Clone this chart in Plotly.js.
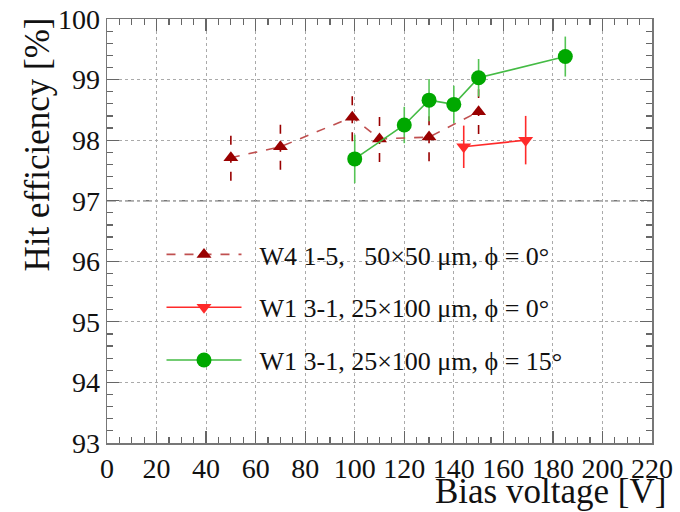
<!DOCTYPE html>
<html>
<head>
<meta charset="utf-8">
<script src="https://cdn.plot.ly/plotly-3.0.1.min.js"></script>
<style>
  html, body { margin: 0; padding: 0; background: #fff; }
  #chart { width: 680px; height: 512px; }
</style>
</head>
<body>
<div id="chart"></div>
<script>
// W4 1-5, 50x50 um pixels, phi = 0 deg
const w4Voltage = [50, 70, 99, 110, 130, 150];
const w4Eff     = [97.71, 97.89, 98.38, 98.02, 98.05, 98.47];
const w4Err     = [0.38, 0.38, 0.40, 0.38, 0.40, 0.37];

// W1 3-1, 25x100 um pixels, phi = 0 deg
const w1Voltage = [144, 169];
const w1Eff     = [97.89, 98.00];
const w1Err     = [0.35, 0.40];

// W1 3-1, 25x100 um pixels, phi = 15 deg
const w1tVoltage = [100, 120, 130, 140, 150, 185];
const w1tEff     = [97.69, 98.25, 98.66, 98.59, 99.03, 99.38];
const w1tErr     = [0.40, 0.30, 0.35, 0.31, 0.31, 0.33];

const legendNames = [
  '\u00a0\u00a0W4 1-5,\u00a0\u00a0\u00a050\u00d750 \u03bcm, \u03d5 = 0\u00b0',
  '\u00a0\u00a0W1 3-1, 25\u00d7100 \u03bcm, \u03d5 = 0\u00b0',
  '\u00a0\u00a0W1 3-1, 25\u00d7100 \u03bcm, \u03d5 = 15\u00b0'
];

const referenceLevel = 97;

const serif = 'Liberation Serif, Times New Roman, serif';

// vertical error segments built from the series values
function errorSegments(xs, ys, es) {
  const x = [], y = [];
  xs.forEach((v, i) => {
    x.push(v, v, null);
    y.push(ys[i] - es[i], ys[i] + es[i], null);
  });
  return { x, y };
}

function errTrace(xs, ys, es, color, dash) {
  const s = errorSegments(xs, ys, es);
  return {
    x: s.x, y: s.y, mode: 'lines', type: 'scatter',
    line: { color: color, width: 1.6, dash: dash },
    showlegend: false, hoverinfo: 'skip'
  };
}

const c1 = '#990000', c2 = '#ff2a2a';

const traces = [
  errTrace(w4Voltage, w4Eff, w4Err, c1, 'dash'),
  errTrace(w1Voltage, w1Eff, w1Err, c2, 'solid'),
  errTrace(w1tVoltage, w1tEff, w1tErr, '#55c455', 'solid'),
  {
    x: w4Voltage, y: w4Eff, name: legendNames[0], legendgroup: 'a',
    type: 'scatter', mode: 'lines+markers',
    line: { color: '#c05050', width: 1.6, dash: 'dash' },
    marker: { symbol: 'triangle-up', size: 13, color: c1 }
  },
  {
    x: w1Voltage, y: w1Eff, name: legendNames[1], legendgroup: 'b',
    type: 'scatter', mode: 'lines+markers',
    line: { color: c2, width: 1.6 },
    marker: { symbol: 'triangle-down', size: 13, color: c2 }
  },
  {
    x: w1tVoltage, y: w1tEff, name: legendNames[2], legendgroup: 'c',
    type: 'scatter', mode: 'lines+markers',
    line: { color: '#44bb44', width: 1.6 },
    marker: { symbol: 'circle', size: 15, color: '#00a800' }
  }
];

const axisCommon = {
  ticks: 'inside', ticklen: 12, tickwidth: 1.2, tickcolor: '#666',
  showline: true, linecolor: '#777', linewidth: 1.5, mirror: 'allticks',
  showgrid: true, gridcolor: '#aaa', gridwidth: 1, griddash: 'dot',
  zeroline: false
};

const layout = {
  width: 680, height: 512,
  margin: { l: 107, r: 28, t: 19, b: 69 },
  paper_bgcolor: '#fff', plot_bgcolor: '#fff',
  font: { family: serif },
  showlegend: true,
  xaxis: Object.assign({}, axisCommon, {
    range: [0, 220], dtick: 20, tick0: 0,
    tickfont: { family: serif, size: 28, color: '#111' },
    minor: { dtick: 5, ticklen: 6, ticks: 'inside', tickcolor: '#666', showgrid: false }
  }),
  yaxis: Object.assign({}, axisCommon, {
    range: [93, 100], dtick: 1, tick0: 93,
    tickfont: { family: serif, size: 28, color: '#111' },
    minor: { dtick: 0.2, ticklen: 6, ticks: 'inside', tickcolor: '#666', showgrid: false }
  }),
  legend: {
    x: 0.1, y: 0.5, xanchor: 'left', yanchor: 'top',
    bgcolor: 'rgba(0,0,0,0)', borderwidth: 0,
    itemwidth: 75, tracegroupgap: 16,
    font: { family: serif, size: 26, color: '#111' }
  },
  shapes: [
    {
      type: 'rect', xref: 'paper', yref: 'paper', layer: 'between',
      x0: 0.079, x1: 0.89, y0: 0.125, y1: 0.521,
      fillcolor: '#fff', line: { width: 0 }
    },
    {
      type: 'line', xref: 'paper', yref: 'y', layer: 'between',
      x0: 0, x1: 1, y0: referenceLevel, y1: referenceLevel,
      line: { color: '#777', width: 1.6, dash: 'dashdot' }
    }
  ],
  annotations: [
    {
      text: 'Bias voltage [V]', xref: 'paper', yref: 'paper',
      x: 1.03, y: 0, xanchor: 'right', yanchor: 'top', yshift: -27,
      showarrow: false, font: { family: serif, size: 35, color: '#111' }
    },
    {
      text: 'Hit efficiency [%]', xref: 'paper', yref: 'paper',
      x: 0, y: 1, xanchor: 'right', yanchor: 'top', xshift: -49, yshift: 3,
      textangle: -90,
      showarrow: false, font: { family: serif, size: 35, color: '#111' }
    }
  ]
};

Plotly.newPlot('chart', traces, layout, { displayModeBar: false, staticPlot: true });
</script>
</body>
</html>
